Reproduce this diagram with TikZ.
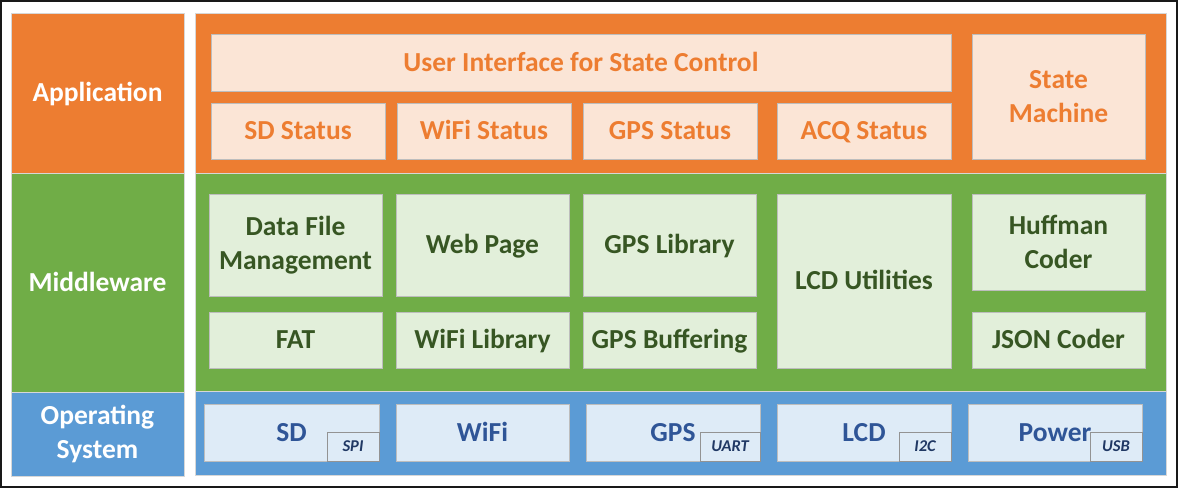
\documentclass[tikz,border=0pt]{standalone}
\usepackage{fontspec}
\setmainfont{Carlito}
\definecolor{cOr}{HTML}{ED7D31}
\definecolor{cOrL}{HTML}{FBE5D6}
\definecolor{cGr}{HTML}{70AD47}
\definecolor{cGrL}{HTML}{E2EFDA}
\definecolor{cBl}{HTML}{5B9BD5}
\definecolor{cBlL}{HTML}{DEEBF7}
\definecolor{cGrT}{HTML}{375623}
\definecolor{cBlT}{HTML}{2F5597}
\definecolor{cBlS}{HTML}{203864}
\definecolor{cEdge}{HTML}{BDBDBD}
\newcommand\mainfs{\fontsize{27.5}{34}\selectfont\bfseries}
\newcommand\smallfs{\fontsize{16.5}{18}\selectfont\bfseries\itshape}
\newcommand\bx[7]{\node[#6, minimum width={(#4-#2)*1pt}, minimum height={(#5-#3)*1pt}] (#1) at ({(#2+#4)/2},{(#3+#5)/2}) {#7};}
\tikzset{
  base/.style={rectangle, inner sep=0pt, outer sep=0pt, align=center},
  one/.style={text height=22pt, text depth=4.6pt},
  tagone/.style={text height=13pt, text depth=2.6pt},
  layer/.style={base, draw=cEdge!60, line width=0.6pt, text=white, font=\mainfs},
  lapp/.style={layer, fill=cOr},
  lmid/.style={layer, fill=cGr},
  los/.style={layer, fill=cBl},
  appbox/.style={base, fill=cOrL, draw=cEdge, line width=0.8pt, text=cOr, font=\mainfs},
  midbox/.style={base, fill=cGrL, draw=cEdge, line width=0.8pt, text=cGrT, font=\mainfs},
  osbox/.style={base, fill=cBlL, draw=cEdge, line width=0.8pt, text=cBlT, font=\mainfs},
  tagbox/.style={base, fill=cBlL, draw=gray!85, line width=1pt, text=cBlS, font=\smallfs, tagone},
}
\begin{document}
\begin{tikzpicture}[x=1pt, y=-1pt]
\useasboundingbox (0,0) rectangle (1178,488);
\node[base, draw=black!90, line width=1.6pt, minimum width=1176pt, minimum height=486pt] (frame) at (589,244) {};
% left labels
\bx{lApp}{11}{13}{184}{173}{lapp,one}{Application}
\bx{lMid}{11}{173}{184}{392}{lmid,one}{Middleware}
\bx{lOS}{11}{392}{184}{476}{los}{Operating\\System}
% right panels
\bx{pApp}{195}{13}{1166}{173}{lapp}{}
\bx{pMid}{195}{173}{1166}{391}{lmid}{}
\bx{pOS}{195}{391}{1166}{475}{los}{}
% application
\bx{ui}{211}{34}{951}{91}{appbox,one}{User Interface for State Control}
\bx{sdst}{211}{103}{385}{159}{appbox,one}{SD Status}
\bx{wifist}{397}{103}{571}{159}{appbox,one}{WiFi Status}
\bx{gpsst}{583}{103}{757}{159}{appbox,one}{GPS Status}
\bx{acqst}{777}{103}{951}{159}{appbox,one}{ACQ Status}
\bx{sm}{972}{34}{1145}{159}{appbox}{State\\Machine}
% middleware
\bx{dfm}{209}{194}{382}{296}{midbox}{Data File\\Management}
\bx{web}{396}{194}{569}{296}{midbox,one}{Web Page}
\bx{gpslib}{583}{194}{756}{296}{midbox,one}{GPS Library}
\bx{lcdu}{777}{194}{951}{368}{midbox,one}{LCD Utilities}
\bx{huff}{972}{194}{1145}{290}{midbox}{Huffman\\Coder}
\bx{fat}{209}{312}{382}{368}{midbox,one}{FAT}
\bx{wifilib}{396}{312}{569}{368}{midbox,one}{WiFi Library}
\bx{gpsbuf}{583}{312}{756}{368}{midbox,one}{GPS Buffering}
\bx{json}{972}{312}{1145}{368}{midbox,one}{JSON Coder}
% operating system
\bx{sd}{204}{404}{379}{461}{osbox,one}{SD}
\bx{wifi}{396}{404}{569}{461}{osbox,one}{WiFi}
\bx{gps}{586}{404}{760}{461}{osbox,one}{GPS}
\bx{lcd}{777}{404}{951}{461}{osbox,one}{LCD}
\bx{pwr}{968}{404}{1142}{461}{osbox,one}{Power}
\bx{spi}{327}{432}{379}{461}{tagbox}{SPI}
\bx{uart}{700}{432}{760}{461}{tagbox}{UART}
\bx{iic}{899}{432}{951}{461}{tagbox}{I2C}
\bx{usb}{1090}{432}{1142}{461}{tagbox}{USB}
\end{tikzpicture}
\end{document}
